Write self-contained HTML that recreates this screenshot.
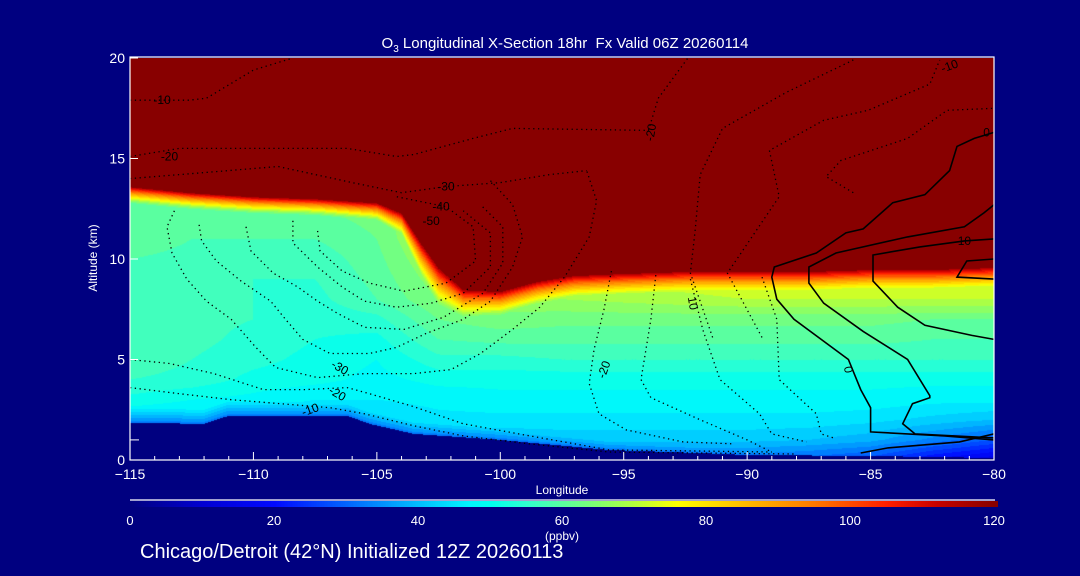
<!DOCTYPE html>
<html><head><meta charset="utf-8">
<style>
html,body{margin:0;padding:0;background:#000080;}
#root{position:relative;width:1080px;height:576px;overflow:hidden;background:#000080;font-family:"Liberation Sans",sans-serif;color:#fff;}
canvas{position:absolute;}
svg{position:absolute;left:0;top:0;}
</style></head>
<body>
<div id="root">
<canvas id="field" width="864" height="402" style="left:130px;top:58px"></canvas>
<canvas id="cbar" width="868" height="6" style="left:130px;top:501px"></canvas>
<svg id="ov" width="1080" height="576"></svg>
</div>
<script>
// ---- data ----
const gridLons=[-115,-112.5,-110,-107.5,-105,-102.5,-100,-97.5,-95,-92.5,-90,-87.5,-85,-82.5,-80];
const gridAlts=[0,1,2,3,4,5,6,7,8,9,10,11,12];
const o3Row0=[33,33,33,33,33,33,33,33,33,33,33,31,28,20,15];
const o3Row1=[42,42,42,42,42,42,42,43,43,43,43,42,40,35,30];
const o3Row2=[47,47,46,44,45,47,47,47,47,47,47,47,46,44,42];
const o3Row3=[53,51,50,48,48,49,50,50,50,50,50,50,50,49,49];
const o3Row4=[57,56,53,52,50,52,52,52,52,52,52,52,52,52,52];
const o3Row5=[59,57,55,53,51,56,56,57,57,57,57,57,57,57,57];
const o3Row6=[59,58,56,54,53,60,61,61,61,61,61,61,61,60,60];
const o3Row7=[59,58,57,55,56,63,65,64,64,64,64,64,64,63,63];
const o3Row8=[59,58,57,56,60,66,68,69,70,71,72,72,72,72,72];
const o3Row9=[59,58,57,57,61,68,72,72,73,74,75,75,75,75,75];
const o3Row10=[60,59,59,58,62,70,75,75,75,75,75,75,75,75,75];
const o3Row11=[62,60,60,60,63,72,75,75,75,75,75,75,75,75,75];
const o3Row12=[63,62,62,62,64,72,75,75,75,75,75,75,75,75,75];
const o3Grid=[o3Row0,o3Row1,o3Row2,o3Row3,o3Row4,o3Row5,o3Row6,o3Row7,o3Row8,o3Row9,o3Row10,o3Row11,o3Row12];
const tropoLons=[-115,-112.5,-110,-107.5,-105,-104,-103.2,-102.5,-101.5,-100,-98.5,-97,-95,-92.5,-90,-87.5,-85,-82.5,-80];
const tropoKm=[13.6,13.3,13.1,13.0,12.8,12.3,10.8,9.6,8.5,8.4,8.9,9.2,9.3,9.4,9.4,9.4,9.5,9.5,9.6];
const bandScale=[0.9,0.9,0.9,0.9,1.0,1.3,2.0,2.2,1.6,1.4,1.4,1.4,1.4,1.4,1.4,1.4,1.4,1.4,1.4];
const terrLons=[-115,-112,-111,-106.2,-105.3,-103.5,-100,-95.6,-92,-90,-85,-80];
const terrKm=[1.85,1.8,2.2,2.2,1.8,1.3,1.0,0.5,0.35,0.25,0.2,0.1];
const xTicks=[-115,-110,-105,-100,-95,-90,-85,-80];
const yTicks=[0,5,10,15,20];
const cbTicks=[0,20,40,60,80,100,120];
// contours (lon, alt)
const cD1=[[-113.2,12.4],[-113.5,11.6],[-113.3,10.3],[-112.7,9.0],[-111.9,7.9],[-110.9,7.0],[-109.9,5.6],[-109.1,4.6],[-107.4,4.1],[-105.5,4.3],[-103.5,4.3],[-102,4.5],[-100.8,5.3],[-99.5,6.5],[-98.4,7.6],[-97.4,9.1],[-96.4,11.1],[-96.1,12.9],[-96.5,14.4]];
const cD2=[[-112.2,11.7],[-112.1,10.9],[-111.5,9.9],[-110.5,8.9],[-109.3,7.9],[-108.7,7.0],[-108,6.0],[-106.9,5.3],[-105.3,5.3],[-104.2,5.6],[-103,6.3],[-101.5,7.0],[-100.4,7.9],[-99.5,9.6],[-99.1,11.1],[-99.5,12.7],[-100.4,13.9]];
const cD3=[[-110.3,11.6],[-110.1,10.4],[-109.2,9.3],[-108.2,8.6],[-107.4,7.9],[-106.6,7.3],[-105.5,6.6],[-103.9,6.5],[-102.3,7.1],[-100.7,8.3],[-99.9,9.8],[-99.9,11.6],[-100.8,12.7]];
const cD4=[[-108.4,11.9],[-108.4,10.8],[-107.4,9.6],[-106.4,8.6],[-105.5,7.9],[-104.2,7.6],[-102.8,7.8],[-101.5,8.3],[-100.4,9.6],[-100.4,11.3],[-101.5,12.4]];
const cD5=[[-107.4,11.4],[-107.3,10.4],[-106.4,9.4],[-105.3,8.8],[-103.9,8.4],[-102.2,8.8],[-101,9.9],[-101.1,11.6],[-102.2,12.6],[-104.2,13.1]];
const cD6=[[-115,5.0],[-113.4,4.8],[-111.6,4.3],[-109.6,3.5],[-107.9,3.5],[-106.2,3.6],[-105.3,3.3],[-103.5,2.65],[-101.5,1.8],[-98.8,1.2],[-95.6,0.5],[-92,0.45],[-89,0.4]];
const cD7=[[-115,3.6],[-113,3.3],[-110.9,3.0],[-108.9,2.8],[-106.9,2.6],[-105.5,2.3],[-103.5,1.7],[-101.5,1.2],[-98.8,0.8],[-95.6,0.4],[-92,0.35],[-88,0.3]];
const cD8=[[-95.5,9.4],[-95.8,7.5],[-96.2,5.5],[-96.4,3.8],[-96,2.3],[-94.9,1.5],[-92.6,0.9],[-90.5,0.8]];
const cD9=[[-93.7,9.2],[-93.9,7],[-94.3,4.0],[-93.9,3.1],[-91.9,2.0],[-90,1.0],[-89,0.4]];
const cD10=[[-92.3,9.0],[-91.8,6.5],[-91.1,4.0],[-89.5,2.3],[-89,1.3],[-87.6,0.9]];
const cD11=[[-89.4,9.1],[-88.8,7],[-88.7,4.0],[-87.2,2.3],[-87,1.3],[-86.5,1.1]];
const cS1=[[-91.4,6.1],[-92.3,9.3],[-92.1,11.5],[-91.9,14.2],[-91.0,16.5],[-88.4,18.3],[-85.7,19.9]];
const cS2=[[-89.4,6.1],[-90.8,9.3],[-88.7,13.1],[-89.1,15.4],[-86.9,16.9],[-85.1,17.4],[-82.6,18.7],[-82.2,19.9]];
const cS3=[[-85.7,13.3],[-86.8,14.1],[-86.2,14.9],[-83.5,16],[-81.9,17.4],[-80,17.5]];
const cT1=[[-115,17.9],[-112.6,17.9],[-111.9,18.0],[-110,19.4],[-108.4,20]];
const cT2=[[-115,15.1],[-113,15.5],[-110.3,15.5],[-108.2,15.5],[-106.2,15.5],[-104.2,15.1],[-103.5,15.2],[-101.1,16.0],[-99.5,16.5],[-94,16.4],[-93.6,18],[-92.4,20]];
const cT3=[[-115,14.0],[-112,14.3],[-109,14.6],[-106,13.8],[-104,13.3],[-102.2,13.6],[-100,13.8],[-98,14.2],[-96.5,14.4]];
const cSolidA=[[-80,16.3],[-80.8,16.0],[-81.5,15.6],[-81.8,14.4],[-82.8,13.2],[-84.1,12.8],[-85.3,11.5],[-86,11.3],[-87.2,10.3],[-88.9,9.6],[-89,9.1],[-88.8,8.0],[-88.1,7.0],[-85.9,5.0],[-85.4,3.5],[-85.0,2.6],[-85.0,1.4],[-82,1.2],[-80,1.0]];
const cSolidB=[[-80,12.7],[-80.4,12.3],[-81.2,11.6],[-83.5,11.1],[-86.4,10.3],[-87.5,9.6],[-87.5,8.8],[-86.9,7.8],[-85.3,6.4],[-83.5,5.0],[-82.6,3.2],[-82.6,3.1],[-83.3,2.8],[-83.7,1.8],[-83.2,1.3],[-80,1.1]];
const cSolidC=[[-80,11.0],[-81.2,10.9],[-83,10.6],[-84.9,10.2],[-84.9,8.9],[-83.9,7.6],[-82.8,6.7],[-80.9,6.2],[-80,6.0]];
const cSolidD=[[-80,10.0],[-81.1,9.9],[-81.5,9.1],[-80,9.0]];
const cSolidE=[[-80,1.3],[-81.4,0.9],[-84.3,0.6],[-85.4,0.35]];
const dottedLines=[cD1,cD2,cD3,cD4,cD5,cD6,cD7,cD8,cD9,cD10,cD11,cS1,cS2,cS3,cT1,cT2,cT3];
const solidLines=[cSolidA,cSolidB,cSolidC,cSolidD,cSolidE];
const labelText=["-10","-20","-30","-40","-50","-30","-20","-10","-20","10","0","10","0","-10","-20"];
const labelLon=[-113.7,-113.4,-102.2,-102.4,-102.8,-106.5,-106.6,-107.7,-95.8,-92.2,-80.3,-81.2,-85.9,-81.8,-93.9];
const labelAlt=[17.9,15.1,13.6,12.6,11.9,4.6,3.3,2.5,4.5,7.8,16.3,10.9,4.5,19.6,16.3];
const labelRot=[0,0,0,0,0,30,30,-20,-70,80,0,0,80,-20,-80];

// ---- axes ----
const X0=130,X1=994,Y0=460,Y1=58;
function xS(lon){return X0+(lon+115)/35*(X1-X0);}
function yS(alt){return Y0-alt/20*(Y0-Y1);}
function cbX(v){return 130+v/120*864;}
function interp(xs,ys,x){
  if(x<=xs[0])return ys[0];
  for(let i=1;i<xs.length;i++){if(x<=xs[i]){const t=(x-xs[i-1])/(xs[i]-xs[i-1]);return ys[i-1]+t*(ys[i]-ys[i-1]);}}
  return ys[ys.length-1];
}
const cmV=[0,10,20,30,40,47,50,55,60,65,70,76,85,95,105,112,120];
const cmC=[[0,0,128],[0,0,210],[0,10,255],[0,100,255],[0,190,255],[0,245,255],[0,255,240],[48,255,208],[90,255,160],[130,255,110],[180,255,60],[255,255,0],[255,190,0],[255,120,0],[255,30,0],[200,0,0],[136,0,0]];
function cmap(v){
  v=Math.max(0,Math.min(120,v));
  for(let i=1;i<cmV.length;i++){if(v<=cmV[i]){const t=(v-cmV[i-1])/(cmV[i]-cmV[i-1]);const a=cmC[i-1],b=cmC[i];return [a[0]+t*(b[0]-a[0]),a[1]+t*(b[1]-a[1]),a[2]+t*(b[2]-a[2])];}}
  return cmC[cmC.length-1];
}
function gridVal(lon,alt){
  const a=Math.max(0,Math.min(12,alt));
  const ci=Math.min(gridLons.length-2,Math.floor((lon+115)/2.5));
  const tx=Math.max(0,Math.min(1,(lon-gridLons[ci])/2.5));
  const ri=Math.min(11,Math.floor(a));const ty=a-ri;
  const v00=o3Grid[ri][ci],v01=o3Grid[ri][ci+1],v10=o3Grid[ri+1][ci],v11=o3Grid[ri+1][ci+1];
  return (v00*(1-tx)+v01*tx)*(1-ty)+(v10*(1-tx)+v11*tx)*ty;
}
// field
(function(){
  const cv=document.getElementById('field');const ctx=cv.getContext('2d');
  const W=cv.width,H=cv.height;const img=ctx.createImageData(W,H);
  for(let px=0;px<W;px++){
    const lon=-115+(px+0.5)/W*35;
    const T=interp(tropoLons,tropoKm,lon),s=interp(tropoLons,bandScale,lon),G=interp(terrLons,terrKm,lon);
    for(let py=0;py<H;py++){
      const alt=20-(py+0.5)/H*20;let c;
      if(alt<G){c=[0,0,128];}
      else{
        let v;
        if(alt>=T)v=120;
        else{
          let iv=gridVal(lon,alt);
          iv=Math.min(iv,34+20*(alt-G));
          const bv=120*Math.exp(-(T-alt)/(1.4*s));
          v=Math.max(iv,bv);
          v=Math.floor(v/3)*3;
          if(v>=117)v=120;
        }
        c=cmap(v);
      }
      const k=(py*W+px)*4;img.data[k]=c[0];img.data[k+1]=c[1];img.data[k+2]=c[2];img.data[k+3]=255;
    }
  }
  ctx.putImageData(img,0,0);
  const cb=document.getElementById('cbar');const c2=cb.getContext('2d');
  for(let i=0;i<cb.width;i++){const c=cmap(i/864*120);c2.fillStyle='rgb('+c.map(Math.round).join(',')+')';c2.fillRect(i,0,1,6);}
})();
// overlay
const NS='http://www.w3.org/2000/svg';
const svg=document.getElementById('ov');
function mk(tag,attrs,parent){const e=document.createElementNS(NS,tag);for(const k in attrs)e.setAttribute(k,attrs[k]);(parent||svg).appendChild(e);return e;}
const gC=mk('g',{});


dottedLines.forEach(function(line){
  const p=mk('polyline',{points:line.map(q=>xS(q[0]).toFixed(1)+','+yS(q[1]).toFixed(1)).join(' '),fill:'none',stroke:'#000','stroke-width':1.3,'stroke-dasharray':'1.3,3.5'},gC);
  
  
});
solidLines.forEach(function(line){
  const p=mk('polyline',{points:line.map(q=>xS(q[0]).toFixed(1)+','+yS(q[1]).toFixed(1)).join(' '),fill:'none',stroke:'#000','stroke-width':1.6},gC);
  
  
});
labelText.forEach(function(t,i){
  const x=xS(labelLon[i]),y=yS(labelAlt[i]);
  const e=mk('text',{x:x,y:y+4,'font-size':12,fill:'#000','text-anchor':'middle','font-family':'Liberation Sans, sans-serif',transform:'rotate('+labelRot[i]+' '+x+' '+y+')'},gC);
  e.textContent=t;
  
  
});
// frame
const fr=mk('rect',{x:X0,y:Y1-1,width:X1-X0,height:Y0-Y1+1,fill:'none',stroke:'#fff','stroke-width':1.2});


// x ticks
for(let l=-115;l<=-80;l++){
  const maj=(l%5===0);
  const t=mk('line',{x1:xS(l),x2:xS(l),y1:Y0,y2:Y0-(maj?8:4),stroke:'#fff','stroke-width':1});
  
  
}
xTicks.forEach(function(l){
  const e=mk('text',{x:xS(l),y:479,'font-size':14,fill:'#fff','text-anchor':'middle'});
  e.textContent='\u2212'+Math.abs(l);
  
  
});
for(let a=0;a<=20;a++){
  const maj=(a%5===0);
  if(!maj&&a!==1)continue;
  const t=mk('line',{x1:X0,x2:X0+(maj?8:9),y1:yS(a),y2:yS(a),stroke:'#fff','stroke-width':1});
  
  
}
yTicks.forEach(function(a){
  const e=mk('text',{x:125,y:yS(a)+5,'font-size':14,fill:'#fff','text-anchor':'end'});
  e.textContent=String(a);
  
  
});
// colorbar
const cl=mk('line',{x1:130,x2:995,y1:500,y2:500,stroke:'#fff','stroke-width':1.2});


cbTicks.forEach(function(v){
  const e=mk('text',{x:cbX(v),y:525,'font-size':13,fill:'#fff','text-anchor':'middle'});
  e.textContent=String(v);
  
  
});
</script>
<div style="position:absolute;left:0;width:1130px;top:35px;text-align:center;font-family:'Liberation Sans',sans-serif;font-size:15px;color:#fff;white-space:pre;">O<sub style="font-size:10px">3</sub> Longitudinal X-Section 18hr  Fx Valid 06Z 20260114</div>
<div style="position:absolute;left:93px;top:258px;transform:translate(-50%,-50%) rotate(-90deg);font-family:'Liberation Sans',sans-serif;font-size:12px;color:#fff;white-space:nowrap;">Altitude (km)</div>
<div style="position:absolute;left:562px;top:490px;transform:translate(-50%,-50%);font-family:'Liberation Sans',sans-serif;font-size:12px;color:#fff;">Longitude</div>
<div style="position:absolute;left:562px;top:536px;transform:translate(-50%,-50%);font-family:'Liberation Sans',sans-serif;font-size:12px;color:#fff;">(ppbv)</div>
<div style="position:absolute;left:140px;top:541px;font-family:'Liberation Sans',sans-serif;font-size:20px;color:#fff;white-space:nowrap;">Chicago/Detroit (42°N) Initialized 12Z 20260113</div>
</body></html>
